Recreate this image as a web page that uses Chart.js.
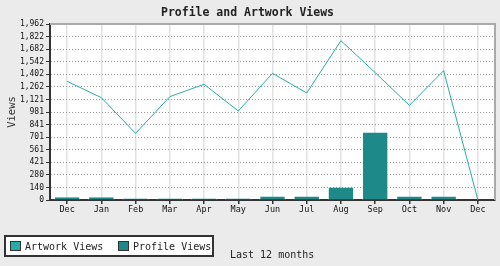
<!DOCTYPE html>
<html>
<head>
<meta charset="utf-8">
<script src="https://cdn.jsdelivr.net/npm/chart.js@4"></script>
<style>
    html, body { margin: 0; background: #ebebeb; }
    canvas { display: block; }
</style>
</head>
<body>
<canvas id="chart" width="500" height="266"></canvas>
<script>
const months = ["Dec", "Jan", "Feb", "Mar", "Apr", "May", "Jun", "Jul", "Aug", "Sep", "Oct", "Nov", "Dec"];
const artworkViews = [1323, 1141, 743, 1152, 1290, 992, 1412, 1193, 1776, 1420, 1055, 1442, 0];
const profileViews = [30, 30, 16, 16, 16, 16, 40, 40, 140, 752, 40, 40, 0];
const yMax = 1962;
const yTickLabels = ["0", "140", "280", "421", "561", "701", "841", "981", "1,121",
    "1,262", "1,402", "1,542", "1,682", "1,822", "1,962"];
const caption = "Last 12 months";

const MONO = "'DejaVu Sans Mono', 'Liberation Mono', monospace";

// white plot area, grey frame, boxed legend and caption
const frame = {
    id: "frame",
    beforeDraw(c) {
        const { ctx, chartArea: a } = c;
        ctx.save();
        ctx.fillStyle = "#ebebeb";
        ctx.fillRect(0, 0, c.width, c.height);
        ctx.fillStyle = "#ffffff";
        ctx.fillRect(a.left, a.top, a.right - a.left, a.bottom - a.top);
        ctx.restore();
    },
    afterDraw(c) {
        const { ctx, chartArea: a } = c;
        ctx.save();
        ctx.strokeStyle = "#aaaaaa";
        ctx.lineWidth = 2;
        ctx.beginPath();
        ctx.moveTo(a.left, a.top);
        ctx.lineTo(a.right, a.top);
        ctx.lineTo(a.right, a.bottom);
        ctx.stroke();

        // legend
        ctx.fillStyle = "#ffffff";
        ctx.fillRect(5, 236, 208, 20);
        ctx.strokeStyle = "#333333";
        ctx.lineWidth = 2;
        ctx.strokeRect(5, 236, 208, 20);
        ctx.font = "10px " + MONO;
        ctx.textBaseline = "middle";
        const xs = [10, 118];
        c.data.datasets.forEach((ds, i) => {
            ctx.fillStyle = ds.legendColor;
            ctx.fillRect(xs[i], 241, 11, 10);
            ctx.lineWidth = 1;
            ctx.strokeRect(xs[i] + 0.5, 241.5, 10, 9);
            ctx.fillStyle = "#222222";
            ctx.fillText(ds.label, xs[i] + 15, 247);
        });

        ctx.fillText(caption, 230, 255);
        ctx.restore();
    }
};

const ctx = document.getElementById("chart").getContext("2d");

new Chart(ctx, {
    type: "bar",
    data: {
        labels: months,
        datasets: [{
            type: "line",
            label: "Artwork Views",
            data: artworkViews,
            borderColor: "#2aabab",
            legendColor: "#2aabab",
            borderWidth: 1,
            pointRadius: 0,
            tension: 0,
            fill: false,
            order: 0
        }, {
            type: "bar",
            label: "Profile Views",
            data: profileViews,
            backgroundColor: "#1d8989",
            legendColor: "#1d8989",
            borderColor: "#ffffff",
            borderWidth: { top: 0, left: 1, right: 1, bottom: 0 },
            barPercentage: 0.77,
            categoryPercentage: 1,
            order: 1
        }]
    },
    options: {
        responsive: false,
        animation: false,
        layout: { padding: { left: 0, right: 5, top: 0, bottom: 0 } },
        plugins: {
            legend: { display: false },
            tooltip: { enabled: false },
            title: {
                display: true,
                text: "Profile and Artwork Views",
                color: "#222222",
                font: { family: MONO, size: 11.5, weight: "bold", lineHeight: 1.2 },
                padding: { top: 6, bottom: 4.2 }
            }
        },
        scales: {
            x: {
                offset: true,
                grid: {
                    offset: false,
                    color: "#e2e2e2",
                    lineWidth: 1.5,
                    tickColor: "#333333",
                    tickLength: 4
                },
                border: { color: "#333333", width: 2 },
                ticks: {
                    color: "#111111",
                    font: { family: MONO, size: 8.5 },
                    padding: 1,
                    maxRotation: 0,
                    autoSkip: false
                },
                afterFit(s) { s.height = 66; }
            },
            y: {
                min: 0,
                max: yMax,
                afterBuildTicks(s) {
                    s.ticks = yTickLabels.map((_, i) => ({ value: i * yMax / (yTickLabels.length - 1) }));
                },
                grid: {
                    color: (c) => (c.index === 0 || c.index === yTickLabels.length - 1) ? "rgba(0,0,0,0)" : "#999999",
                    lineWidth: 1,
                    tickColor: "#333333",
                    tickLength: 4,
                    tickBorderDash: []
                },
                border: { color: "#333333", width: 2, dash: [1, 2] },
                ticks: {
                    color: "#111111",
                    font: { family: MONO, size: 8 },
                    padding: 2,
                    autoSkip: false,
                    callback: (v, i) => yTickLabels[i]
                },
                title: {
                    display: true,
                    text: "Views",
                    color: "#333333",
                    font: { family: MONO, size: 10.5 },
                    padding: { top: 6, bottom: 0 }
                },
                afterFit(s) { s.width = 50; }
            }
        }
    },
    plugins: [frame]
});
</script>
</body>
</html>
